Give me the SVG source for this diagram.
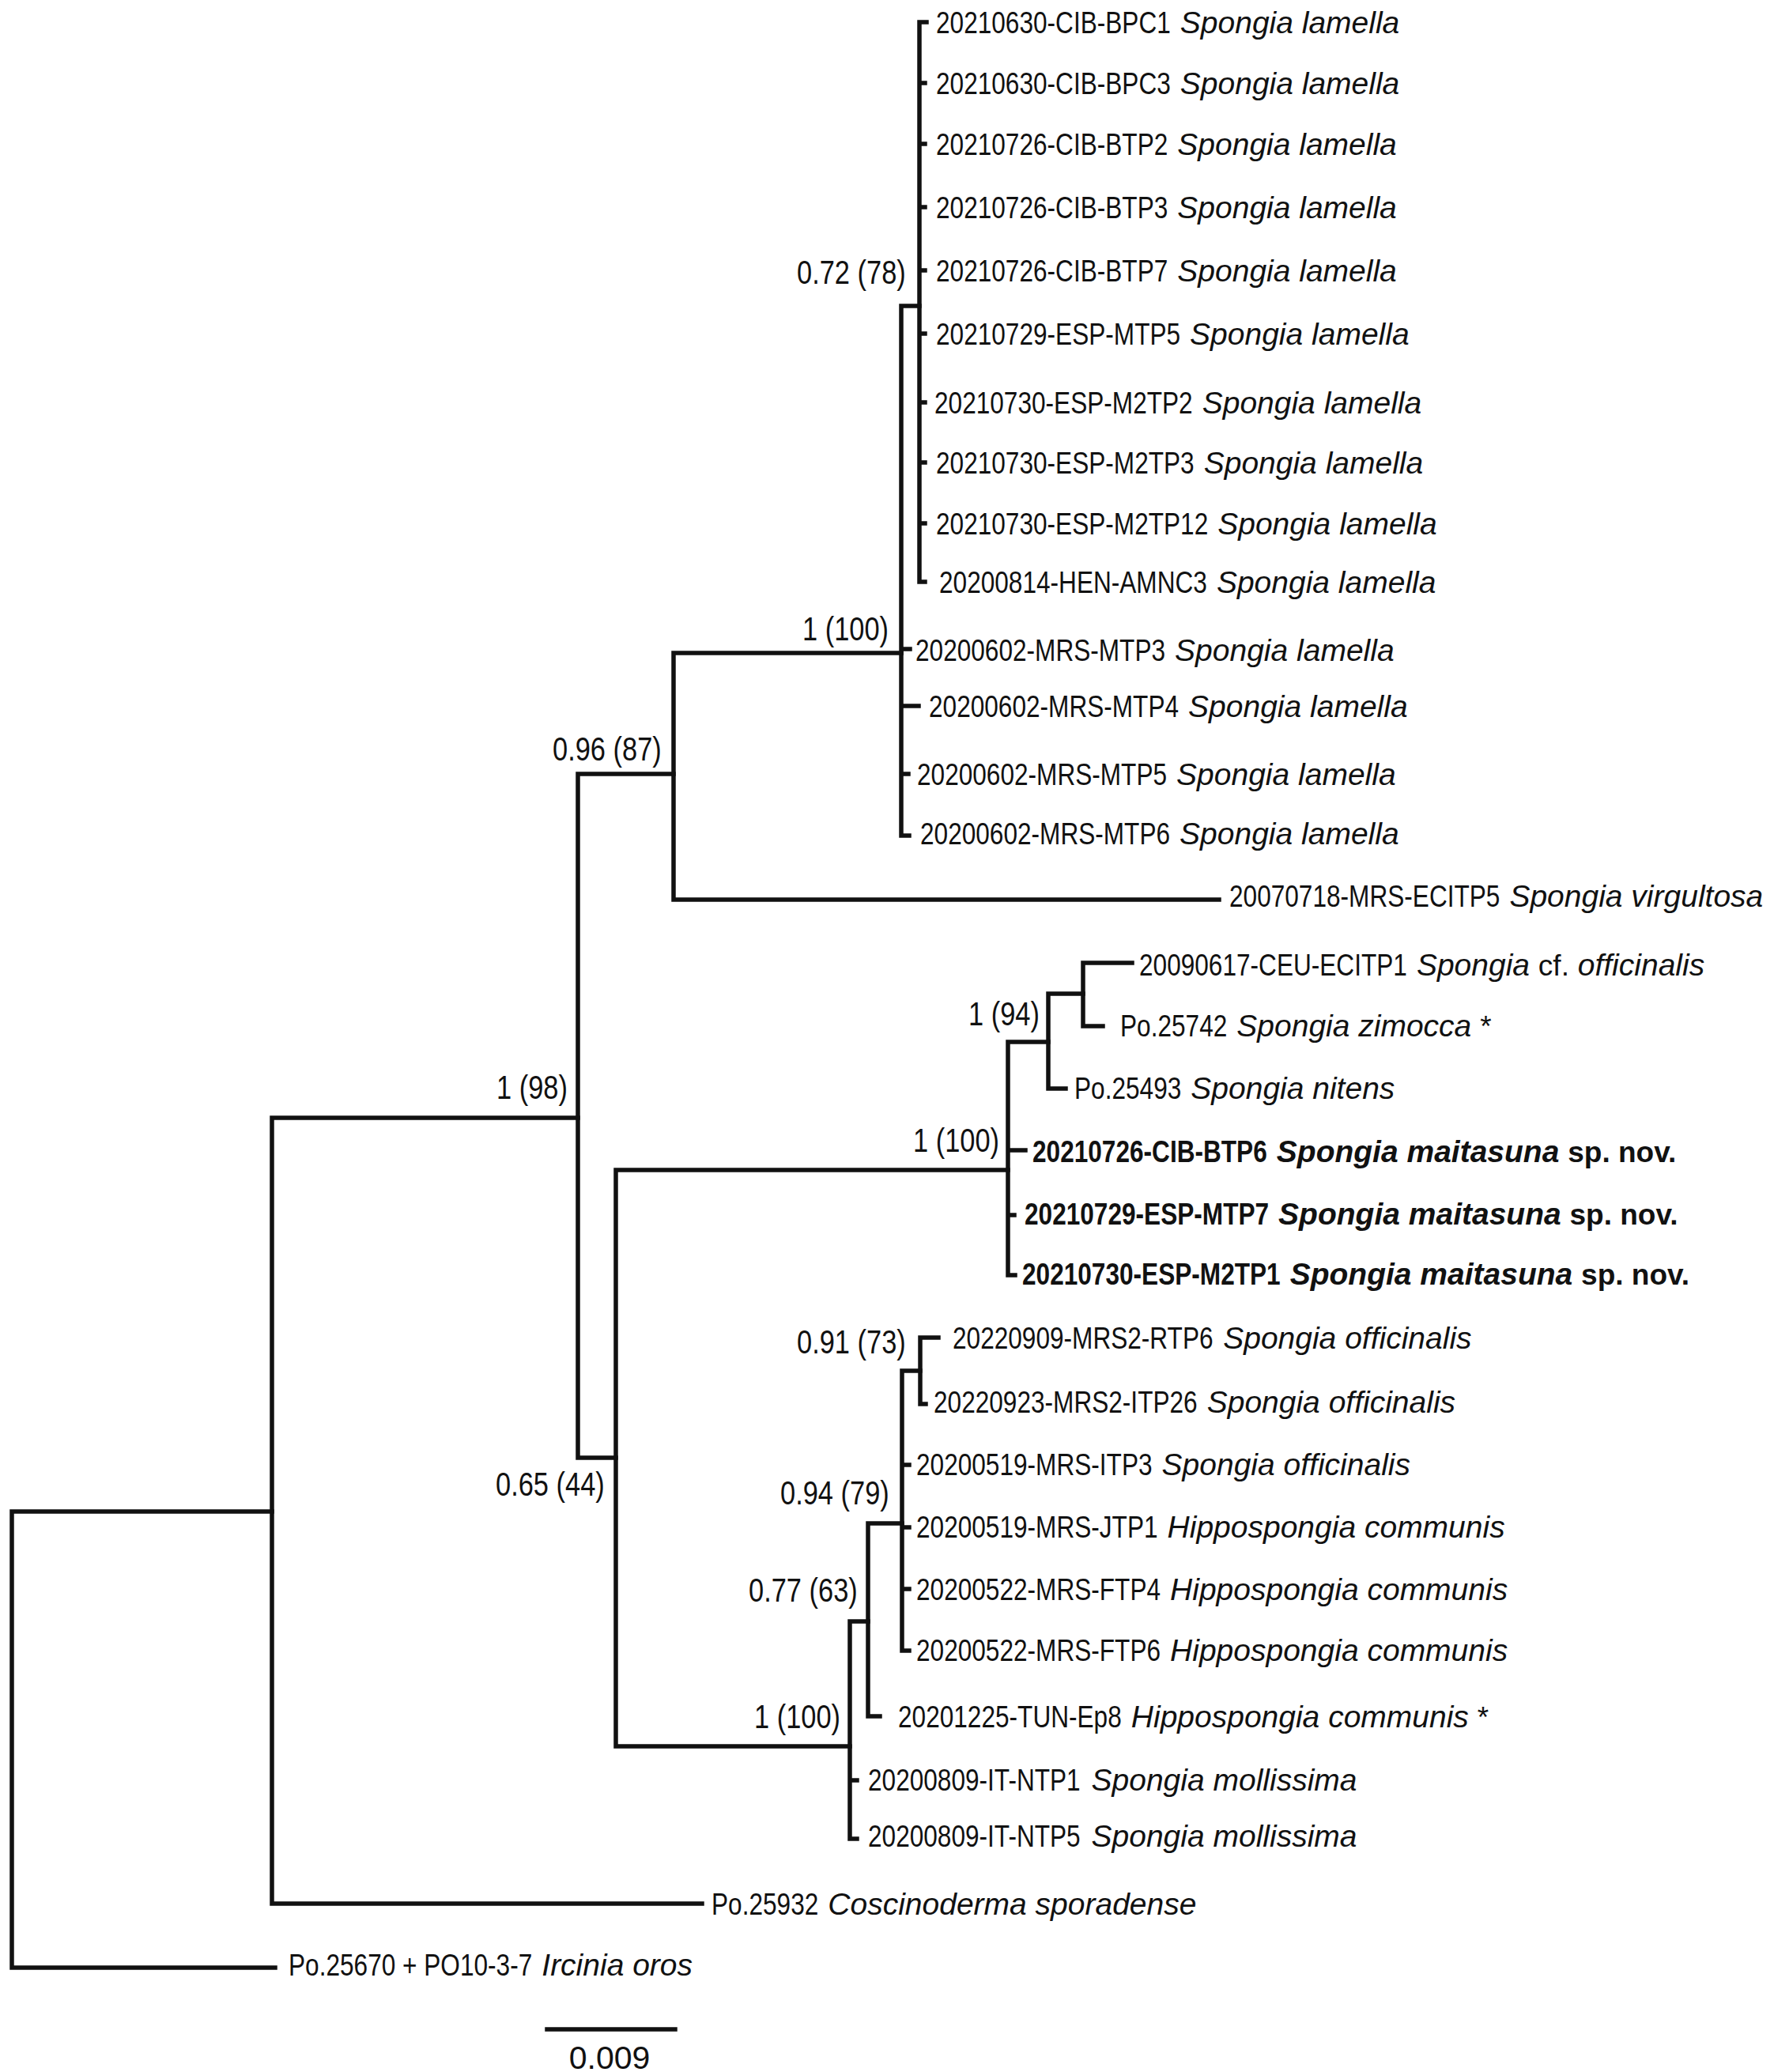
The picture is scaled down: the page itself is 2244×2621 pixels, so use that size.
<svg xmlns="http://www.w3.org/2000/svg" width="2244" height="2621" viewBox="0 0 2244 2621">
<style>
.br{stroke:#111;stroke-width:5.5;stroke-linecap:square;fill:none}
text{fill:#111}
.id{font-family:"Liberation Sans",Arial,sans-serif;font-size:38px}
.sp{font-family:"Liberation Sans",Arial,sans-serif;font-style:italic;font-size:39px}
.rm{font-style:normal;font-size:37px}
.sup{font-family:"Liberation Sans",Arial,sans-serif;font-size:42px}
.b{font-weight:bold}
.scale{font-family:"Liberation Sans",Arial,sans-serif;font-size:41px;text-anchor:middle}
</style>
<rect width="2244" height="2621" fill="#fff"/>
<g id="connectors" class="br">
<path d="M15 1912V2489M15 1912H344M15 2489H348"/>
<path d="M344 1414V2408M344 1414H731M344 2408H888"/>
<path d="M731 979V1844M731 979H852M731 1844H779"/>
<path d="M852 826V1138M852 826H1140M852 1138H1542"/>
<path d="M1140 387V1057M1140 387H1163M1140 821H1151M1140 893H1162M1140 979H1149M1140 1057H1150"/>
<path d="M1163 28V736M1163 28H1172M1163 105H1170M1163 182H1170M1163 262H1170M1163 342H1170M1163 422H1170M1163 509H1170M1163 585H1170M1163 662H1170M1163 736H1170"/>
<path d="M779 1480V2209M779 1480H1275M779 2209H1075"/>
<path d="M1275 1318V1613M1275 1318H1326M1275 1455H1297M1275 1537H1283M1275 1613H1284"/>
<path d="M1326 1257V1377M1326 1257H1370M1326 1377H1348"/>
<path d="M1370 1218V1298M1370 1218H1432M1370 1298H1395"/>
<path d="M1075 2051V2326M1075 2051H1098M1075 2252H1084M1075 2326H1084"/>
<path d="M1098 1927V2171M1098 1927H1141M1098 2171H1113"/>
<path d="M1141 1734V2088M1141 1734H1164M1141 1853H1150M1141 1932H1150M1141 2010H1150M1141 2088H1150"/>
<path d="M1164 1692V1776M1164 1692H1187M1164 1776H1171"/>
</g>
<g id="scale-bar">
<path class="br" d="M692 2567H854"/>
<text class="scale" x="771" y="2617">0.009</text>
</g>
<g id="support-labels">
<text class="sup" transform="translate(1008 359) scale(0.82 1)">0.72 (78)</text>
<text class="sup" transform="translate(1015 810) scale(0.82 1)">1 (100)</text>
<text class="sup" transform="translate(699 962) scale(0.82 1)">0.96 (87)</text>
<text class="sup" transform="translate(628 1390) scale(0.82 1)">1 (98)</text>
<text class="sup" transform="translate(1225 1297) scale(0.82 1)">1 (94)</text>
<text class="sup" transform="translate(1155 1457) scale(0.82 1)">1 (100)</text>
<text class="sup" transform="translate(627 1892) scale(0.82 1)">0.65 (44)</text>
<text class="sup" transform="translate(1008 1712) scale(0.82 1)">0.91 (73)</text>
<text class="sup" transform="translate(987 1903) scale(0.82 1)">0.94 (79)</text>
<text class="sup" transform="translate(947 2026) scale(0.82 1)">0.77 (63)</text>
<text class="sup" transform="translate(954 2186) scale(0.82 1)">1 (100)</text>
</g>
<g id="leaf-BPC1"><text class="id" transform="translate(1184 42) scale(0.8316 1)">20210630-CIB-BPC1</text><text class="sp" x="1492.8" y="42">Spongia lamella</text></g>
<g id="leaf-BPC3"><text class="id" transform="translate(1184 119) scale(0.8316 1)">20210630-CIB-BPC3</text><text class="sp" x="1492.8" y="119">Spongia lamella</text></g>
<g id="leaf-BTP2"><text class="id" transform="translate(1184 196) scale(0.8316 1)">20210726-CIB-BTP2</text><text class="sp" x="1489.3" y="196">Spongia lamella</text></g>
<g id="leaf-BTP3"><text class="id" transform="translate(1184 276) scale(0.8316 1)">20210726-CIB-BTP3</text><text class="sp" x="1489.3" y="276">Spongia lamella</text></g>
<g id="leaf-BTP7"><text class="id" transform="translate(1184 356) scale(0.8316 1)">20210726-CIB-BTP7</text><text class="sp" x="1489.3" y="356">Spongia lamella</text></g>
<g id="leaf-ESP-MTP5"><text class="id" transform="translate(1184 436) scale(0.8316 1)">20210729-ESP-MTP5</text><text class="sp" x="1505.1" y="436">Spongia lamella</text></g>
<g id="leaf-M2TP2"><text class="id" transform="translate(1182 523) scale(0.8316 1)">20210730-ESP-M2TP2</text><text class="sp" x="1520.7" y="523">Spongia lamella</text></g>
<g id="leaf-M2TP3"><text class="id" transform="translate(1184 599) scale(0.8316 1)">20210730-ESP-M2TP3</text><text class="sp" x="1522.7" y="599">Spongia lamella</text></g>
<g id="leaf-M2TP12"><text class="id" transform="translate(1184 676) scale(0.8316 1)">20210730-ESP-M2TP12</text><text class="sp" x="1540.2" y="676">Spongia lamella</text></g>
<g id="leaf-AMNC3"><text class="id" transform="translate(1188 750) scale(0.8316 1)">20200814-HEN-AMNC3</text><text class="sp" x="1538.9" y="750">Spongia lamella</text></g>
<g id="leaf-MRS-MTP3"><text class="id" transform="translate(1158 836) scale(0.8316 1)">20200602-MRS-MTP3</text><text class="sp" x="1486.1" y="836">Spongia lamella</text></g>
<g id="leaf-MRS-MTP4"><text class="id" transform="translate(1175 907) scale(0.8316 1)">20200602-MRS-MTP4</text><text class="sp" x="1503.1" y="907">Spongia lamella</text></g>
<g id="leaf-MRS-MTP5"><text class="id" transform="translate(1160 993) scale(0.8316 1)">20200602-MRS-MTP5</text><text class="sp" x="1488.1" y="993">Spongia lamella</text></g>
<g id="leaf-MRS-MTP6"><text class="id" transform="translate(1164 1068) scale(0.8316 1)">20200602-MRS-MTP6</text><text class="sp" x="1492.1" y="1068">Spongia lamella</text></g>
<g id="leaf-ECITP5"><text class="id" transform="translate(1555 1147) scale(0.8316 1)">20070718-MRS-ECITP5</text><text class="sp" x="1909.4" y="1147">Spongia virgultosa</text></g>
<g id="leaf-ECITP1"><text class="id" transform="translate(1441 1234) scale(0.8316 1)">20090617-CEU-ECITP1</text><text class="sp" x="1791.9" y="1234">Spongia <tspan class="rm">cf.</tspan> officinalis</text></g>
<g id="leaf-Po25742"><text class="id" transform="translate(1417 1311) scale(0.8316 1)">Po.25742</text><text class="sp" x="1564.3" y="1311">Spongia zimocca <tspan class="rm">*</tspan></text></g>
<g id="leaf-Po25493"><text class="id" transform="translate(1359 1390) scale(0.8316 1)">Po.25493</text><text class="sp" x="1506.3" y="1390">Spongia nitens</text></g>
<g id="leaf-BTP6"><text class="id b" transform="translate(1306 1470) scale(0.8316 1)">20210726-CIB-BTP6</text><text class="sp b" x="1614.8" y="1470">Spongia maitasuna <tspan class="rm">sp. nov.</tspan></text></g>
<g id="leaf-MTP7"><text class="id b" transform="translate(1296 1549) scale(0.8316 1)">20210729-ESP-MTP7</text><text class="sp b" x="1617.1" y="1549">Spongia maitasuna <tspan class="rm">sp. nov.</tspan></text></g>
<g id="leaf-M2TP1"><text class="id b" transform="translate(1293 1625) scale(0.8316 1)">20210730-ESP-M2TP1</text><text class="sp b" x="1631.7" y="1625">Spongia maitasuna <tspan class="rm">sp. nov.</tspan></text></g>
<g id="leaf-RTP6"><text class="id" transform="translate(1205 1706) scale(0.8316 1)">20220909-MRS2-RTP6</text><text class="sp" x="1547.2" y="1706">Spongia officinalis</text></g>
<g id="leaf-ITP26"><text class="id" transform="translate(1181 1787) scale(0.8316 1)">20220923-MRS2-ITP26</text><text class="sp" x="1526.7" y="1787">Spongia officinalis</text></g>
<g id="leaf-ITP3"><text class="id" transform="translate(1159 1866) scale(0.8316 1)">20200519-MRS-ITP3</text><text class="sp" x="1469.6" y="1866">Spongia officinalis</text></g>
<g id="leaf-JTP1"><text class="id" transform="translate(1159 1945) scale(0.8316 1)">20200519-MRS-JTP1</text><text class="sp" x="1476.6" y="1945">Hippospongia communis</text></g>
<g id="leaf-FTP4"><text class="id" transform="translate(1159 2024) scale(0.8316 1)">20200522-MRS-FTP4</text><text class="sp" x="1480.1" y="2024">Hippospongia communis</text></g>
<g id="leaf-FTP6"><text class="id" transform="translate(1159 2101) scale(0.8316 1)">20200522-MRS-FTP6</text><text class="sp" x="1480.1" y="2101">Hippospongia communis</text></g>
<g id="leaf-Ep8"><text class="id" transform="translate(1136 2185) scale(0.8316 1)">20201225-TUN-Ep8</text><text class="sp" x="1430.8" y="2185">Hippospongia communis <tspan class="rm">*</tspan></text></g>
<g id="leaf-NTP1"><text class="id" transform="translate(1098 2265) scale(0.8316 1)">20200809-IT-NTP1</text><text class="sp" x="1380.5" y="2265">Spongia mollissima</text></g>
<g id="leaf-NTP5"><text class="id" transform="translate(1098 2336) scale(0.8316 1)">20200809-IT-NTP5</text><text class="sp" x="1380.5" y="2336">Spongia mollissima</text></g>
<g id="leaf-Po25932"><text class="id" transform="translate(900 2422) scale(0.8316 1)">Po.25932</text><text class="sp" x="1047.3" y="2422">Coscinoderma sporadense</text></g>
<g id="leaf-Po25670"><text class="id" transform="translate(365 2499) scale(0.8316 1)">Po.25670 + PO10-3-7</text><text class="sp" x="685.3" y="2499">Ircinia oros</text></g>
</svg>
